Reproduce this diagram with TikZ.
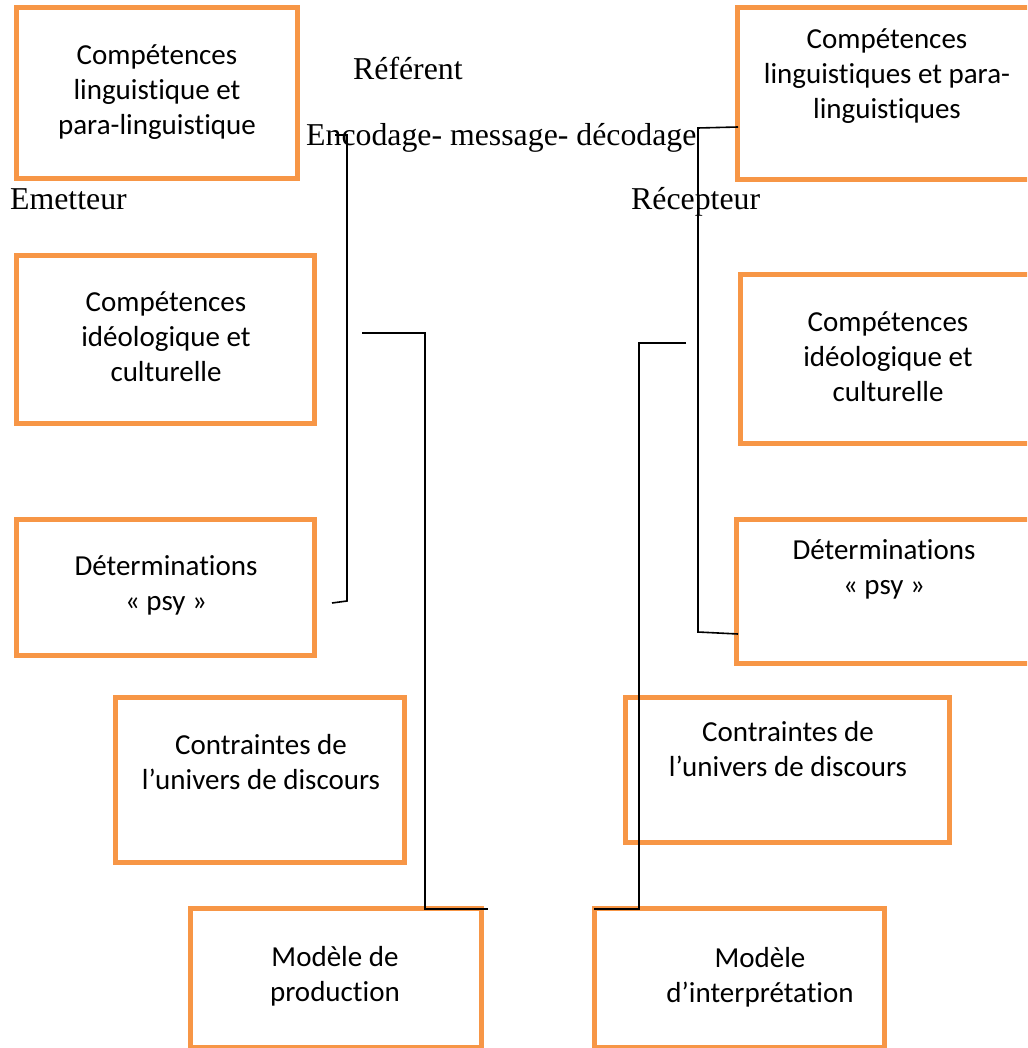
\documentclass[tikz,border=0pt]{standalone}
\usepackage{fontspec}
\setmainfont{Liberation Serif}
\newfontfamily\boxfont[Ligatures=NoCommon]{Carlito}
\definecolor{boxorange}{RGB}{247,150,70}
\tikzset{
  x=1pt, y=-1pt,
  frame/.style={draw=boxorange, line width=5pt, inner sep=0pt},
  boxtext/.style={font=\boxfont\fontsize{29}{35}\selectfont, align=center, inner sep=0pt},
  plain/.style={font=\fontsize{31.8}{38}\selectfont, inner sep=0pt, anchor=base west},
  link/.style={draw=black, line width=1.6pt}
}
\begin{document}
\begin{tikzpicture}
\useasboundingbox (0,0) rectangle (1027,1048);
\clip (0,0) rectangle (1027,1048);

% sender side boxes
\draw[frame] (16,8) rectangle (297,179);
\node[boxtext] (s1) at (157,92) {Compétences\\linguistique et\\para-linguistique};
\draw[frame] (16,256) rectangle (314,423);
\node[boxtext] (s2) at (166,337) {Compétences\\idéologique et\\culturelle};
\draw[frame] (16,519) rectangle (314,655);
\node[boxtext] (s3) at (166,585) {Déterminations\\« psy »};
\draw[frame] (115,697) rectangle (404,862);
\node[boxtext] (s4) at (261,762) {Contraintes de\\l’univers de discours};
\draw[frame] (190,908) rectangle (481,1047);
\node[boxtext] (s5) at (335,976) {Modèle de\\production};

% receiver side boxes
\draw[frame] (737,8) rectangle (1040,180);
\node[boxtext] (r1) at (887,76) {Compétences\\linguistiques et para-\\linguistiques};
\draw[frame] (740,275) rectangle (1040,443);
\node[boxtext] (r2) at (888,357) {Compétences\\idéologique et\\culturelle};
\draw[frame] (736,519) rectangle (1040,663);
\node[boxtext] (r3) at (884,569) {Déterminations\\« psy »};
\draw[frame] (625,697) rectangle (949,842);
\node[boxtext] (r4) at (788,749) {Contraintes de\\l’univers de discours};
\draw[frame] (594,908) rectangle (884,1047);
\node[boxtext] (r5) at (760,977) {Modèle\\d’interprétation};

% free labels
\node[plain] (ref) at (353,80) {Référent};
\node[plain] (enc) at (306,146) {Encodage- message- décodage};
\node[plain] (emet) at (10,210) {Emetteur};
\node[plain] (recep) at (631,210) {Récepteur};

% connector ends
\coordinate (la) at (335,135);
\coordinate (lb) at (332,603);
\coordinate (pa) at (362,333);
\coordinate (pb) at (488,909);
\coordinate (ra) at (738,127);
\coordinate (rb) at (738,634);
\coordinate (qa) at (686,343);
\coordinate (qb) at (594,909);

% brackets and links
\draw[link] (la) -- (347,135) -- (347,601) -- (lb);
\draw[link] (pa) -| (425,909) -- (pb);
\draw[link] (ra) -- (698,128) -- (698,632) -- (rb);
\draw[link] (qa) -| (639,909) -- (qb);
\end{tikzpicture}
\end{document}
